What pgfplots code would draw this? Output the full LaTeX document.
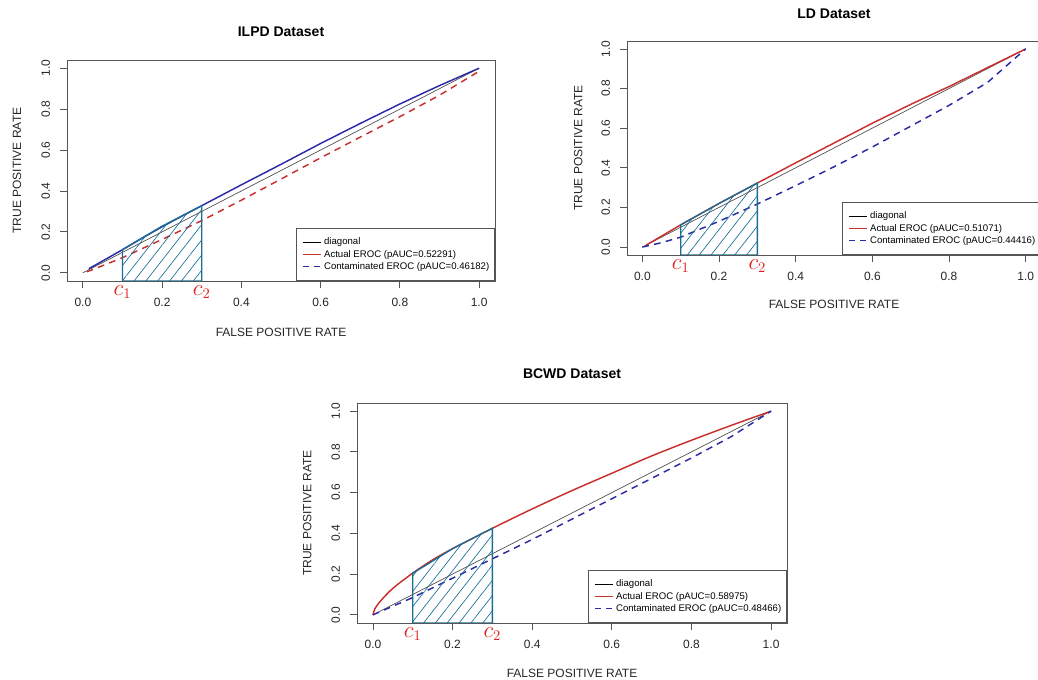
\documentclass[border=0pt]{standalone}
\usepackage{pgfplots}
\pgfplotsset{compat=1.18}
\usepackage{fontspec}
\setmainfont{Liberation Sans}
\usetikzlibrary{patterns.meta}
\definecolor{rred}{HTML}{C8302E}
\definecolor{rblue}{HTML}{2B2BA5}
\definecolor{hteal}{HTML}{1A6E96}
\definecolor{boxgray}{HTML}{555555}
\definecolor{clab}{HTML}{E02020}
\tikzset{
  clabel/.style={clab, anchor=north, font=\fontsize{16}{16}\selectfont, inner sep=0pt, yshift=-3pt},
  ttl/.style={anchor=center, inner sep=0pt, font=\fontsize{10.5}{12}\selectfont\bfseries},
}
\pgfplotsset{
  rocax/.style={
    scale only axis,
    xmin=-0.04, xmax=1.04, ymin=-0.04, ymax=1.04,
    xtick={0,0.2,0.4,0.6,0.8,1.0}, ytick={0,0.2,0.4,0.6,0.8,1.0},
    tick align=outside, major tick length=5.25pt,
    every tick/.style={boxgray, line width=0.6pt},
    axis line style={boxgray, line width=0.6pt},
    xtick pos=bottom, ytick pos=left,
    /pgf/number format/assume math mode=true,
    /pgf/number format/.cd, fixed, fixed zerofill, precision=1, /pgfplots/.cd,
    tick label style={font=\fontsize{9}{10}\selectfont, text=black!85},
    yticklabel style={rotate=90, anchor=south, xshift=0pt, yshift=4pt},
    xticklabel style={anchor=north, yshift=-4pt},
    label style={font=\fontsize{9}{10}\selectfont, text=black!85},
    xlabel={FALSE POSITIVE RATE}, ylabel={TRUE POSITIVE RATE},
    clip mode=individual,
    legend cell align=left,
    legend style={at={(axis description cs:1,0)}, anchor=south east,
      draw=boxgray, line width=0.6pt, font=\fontsize{7.2}{8}\selectfont,
      inner xsep=2pt, inner ysep=5pt, row sep=-1.6pt},
  },
  diag/.style={black!70, line width=0.5pt, forget plot},
  solidc/.style={line width=1.1pt, forget plot},
  dashc/.style={line width=1.1pt, dash pattern=on 5pt off 4pt, forget plot},
  hatch/.style={draw=hteal, line width=1pt, pattern={Lines[angle=52,distance=7pt,line width=0.5pt]}, pattern color=hteal, forget plot},
  legA/.style={legend image code/.code={\path (-3pt,0pt); \draw[black, line width=0.8pt] (0pt,0pt) -- (13pt,0pt);}},
  legB/.style={legend image code/.code={\path (-3pt,0pt); \draw[rred, line width=1pt] (0pt,0pt) -- (13pt,0pt);}},
  legC/.style={legend image code/.code={\path (-3pt,0pt); \draw[rblue, line width=0.8pt, dash pattern=on 4.5pt off 3.5pt] (0pt,0pt) -- (13pt,0pt);}},
}
\begin{document}
\begin{tikzpicture}
\useasboundingbox (0,0) rectangle (778.5pt,510pt);
% ---------------- ILPD ----------------
\begin{axis}[rocax, at={(50.25pt,465pt)}, anchor=north west,
  width=321pt, height=165.75pt,
  xlabel style={at={(axis description cs:0.5,-0.231)}, anchor=center},
  ylabel style={at={(axis description cs:-0.117,0.5)}, anchor=center}]
\addplot[diag] coordinates {(0,0) (1,1)};
\addplot[solidc, rblue] coordinates {(0.015,0.02) (0.05,0.058) (0.1,0.113) (0.15,0.17) (0.2,0.225) (0.25,0.277) (0.3,0.328) (0.4,0.43) (0.5,0.53) (0.6,0.632) (0.7,0.73) (0.8,0.825) (0.9,0.915) (1,1)};
\addplot[dashc, rred] coordinates {(0.01,0.005) (0.05,0.035) (0.1,0.074) (0.2,0.163) (0.3,0.255) (0.4,0.355) (0.5,0.458) (0.6,0.562) (0.7,0.663) (0.8,0.763) (0.9,0.868) (1,0.985)};
\addplot[hatch] coordinates {(0.1,-0.04) (0.1,0.113) (0.2,0.228) (0.3,0.328) (0.3,-0.04)} -- cycle;
\addlegendimage{legA}
\addlegendentry{diagonal}
\addlegendimage{legB}
\addlegendentry{Actual EROC (pAUC=0.52291)}
\addlegendimage{legC}
\addlegendentry{Contaminated EROC (pAUC=0.46182)}
\node[clabel] at (axis cs:0.1,-0.04) {$c_1$};
\node[clabel] at (axis cs:0.3,-0.04) {$c_2$};
\node[ttl] at (axis description cs:0.5,1.127) {ILPD Dataset};
\end{axis}
% ---------------- LD ----------------
\begin{axis}[rocax, at={(470.25pt,479.25pt)}, anchor=north west,
  width=310.5pt, height=160.5pt,
  xlabel style={at={(axis description cs:0.5,-0.229)}, anchor=center},
  ylabel style={at={(axis description cs:-0.118,0.5)}, anchor=center}]
\addplot[diag] coordinates {(0,0) (1,1)};
\addplot[solidc, rred] coordinates {(0.01,0.01) (0.05,0.055) (0.1,0.112) (0.2,0.22) (0.3,0.323) (0.4,0.425) (0.5,0.525) (0.6,0.625) (0.7,0.72) (0.8,0.81) (0.9,0.905) (1,1)};
\addplot[dashc, rblue] coordinates {(0,0) (0.05,0.022) (0.1,0.05) (0.2,0.13) (0.3,0.217) (0.4,0.31) (0.5,0.405) (0.6,0.505) (0.7,0.61) (0.8,0.715) (0.9,0.83) (1,1)};
\addplot[hatch] coordinates {(0.1,-0.04) (0.1,0.112) (0.2,0.22) (0.3,0.323) (0.3,-0.04)} -- cycle;
\addlegendimage{legA}
\addlegendentry{diagonal}
\addlegendimage{legB}
\addlegendentry{Actual EROC (pAUC=0.51071)}
\addlegendimage{legC}
\addlegendentry{Contaminated EROC (pAUC=0.44416)}
\node[clabel] at (axis cs:0.1,-0.04) {$c_1$};
\node[clabel] at (axis cs:0.3,-0.04) {$c_2$};
\node[ttl] at (axis description cs:0.5,1.126) {LD Dataset};
\end{axis}
% ---------------- BCWD ----------------
\begin{axis}[rocax, at={(267.75pt,207.75pt)}, anchor=north west,
  width=322.5pt, height=165pt,
  xlabel style={at={(axis description cs:0.5,-0.227)}, anchor=center},
  ylabel style={at={(axis description cs:-0.116,0.5)}, anchor=center}]
\addplot[diag] coordinates {(0,0) (1,1)};
\addplot[solidc, rred, smooth] coordinates {(0,0) (0.005,0.03) (0.02,0.07) (0.05,0.13) (0.1,0.205) (0.15,0.27) (0.2,0.325) (0.25,0.375) (0.3,0.425) (0.4,0.52) (0.5,0.61) (0.6,0.695) (0.7,0.78) (0.8,0.857) (0.9,0.93) (1,1)};
\addplot[dashc, rblue] coordinates {(0,0) (0.1,0.085) (0.2,0.18) (0.3,0.275) (0.4,0.37) (0.5,0.47) (0.6,0.57) (0.7,0.67) (0.8,0.77) (0.9,0.875) (1,1)};
\addplot[hatch] coordinates {(0.1,-0.04) (0.1,0.205) (0.13,0.24) (0.2,0.325) (0.25,0.375) (0.3,0.425) (0.3,-0.04)} -- cycle;
\addlegendimage{legA}
\addlegendentry{diagonal}
\addlegendimage{legB}
\addlegendentry{Actual EROC (pAUC=0.58975)}
\addlegendimage{legC}
\addlegendentry{Contaminated EROC (pAUC=0.48466)}
\node[clabel] at (axis cs:0.1,-0.04) {$c_1$};
\node[clabel] at (axis cs:0.3,-0.04) {$c_2$};
\node[ttl] at (axis description cs:0.5,1.132) {BCWD Dataset};
\end{axis}
\end{tikzpicture}
\end{document}
